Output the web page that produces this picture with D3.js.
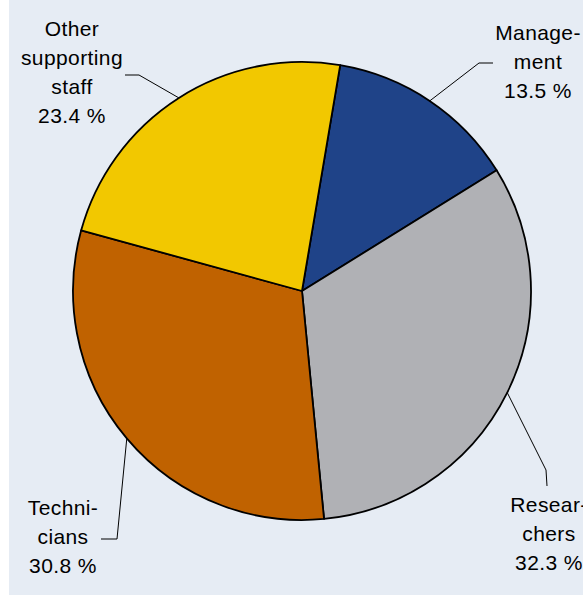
<!DOCTYPE html>
<html><head><meta charset="utf-8">
<script src="https://cdn.jsdelivr.net/npm/d3@7"></script>
<style>html,body{margin:0;padding:0;background:#fff;}svg{display:block;}</style>
</head><body>
<svg id="chart" width="583" height="597"></svg>
<script>
// Data
const categories = ["Management", "Researchers", "Technicians", "Other supporting staff"];
const values = [13.5, 32.3, 30.8, 23.4];
const labelLines = [["Manage-", "ment"], ["Resear-", "chers"], ["Techni-", "cians"], ["Other", "supporting", "staff"]];
const colors = ["#1f4388", "#b0b1b5", "#c06200", "#f2c800"];

// Layout
const W = 583, H = 597;
const cx = 302, cy = 291, R = 229;
const startDeg = 9.6;
// label anchor: text centre x, first baseline y; leader elbow & end points
const labelLayout = [
  {tx: 538, ty: 40, elbow: [479, 63], end: [493, 63]},
  {tx: 549, ty: 512, elbow: [546, 470], end: [547, 486]},
  {tx: 63, ty: 515, elbow: [117, 539], end: [101, 539]},
  {tx: 72, ty: 36, elbow: [139, 75], end: [125, 75]}
];
const lineH = 29;

const svg = d3.select("#chart");
svg.append("rect").attr("x", 9).attr("y", 0).attr("width", W - 9).attr("height", 595).attr("fill", "#e6ecf4");

const pie = d3.pie().sort(null).value(d => d)
  .startAngle(startDeg * Math.PI / 180)
  .endAngle(startDeg * Math.PI / 180 + 2 * Math.PI);
const arcs = pie(values);
const arc = d3.arc().innerRadius(0).outerRadius(R);

const g = svg.append("g").attr("transform", `translate(${cx},${cy})`);
g.selectAll("path").data(arcs).join("path")
  .attr("d", arc)
  .attr("fill", (d, i) => colors[i])
  .attr("stroke", "#000").attr("stroke-width", 1.8).attr("stroke-linejoin", "round");

// Leader lines
arcs.forEach((a, i) => {
  const m = (a.startAngle + a.endAngle) / 2;
  const px = cx + R * Math.sin(m), py = cy - R * Math.cos(m);
  const L = labelLayout[i];
  svg.append("polyline")
    .attr("points", [[px, py], L.elbow, L.end].map(p => p.join(",")).join(" "))
    .attr("fill", "none").attr("stroke", "#000").attr("stroke-width", 1);
});

// Labels
arcs.forEach((a, i) => {
  const L = labelLayout[i];
  const lines = labelLines[i].concat([d3.format(".1f")(values[i]) + " %"]);
  const t = svg.append("text")
    .attr("text-anchor", "middle")
    .attr("font-family", "Liberation Sans, Arial, sans-serif")
    .attr("font-size", 21).attr("letter-spacing", 0.4).attr("fill", "#000");
  lines.forEach((s, k) => {
    t.append("tspan").attr("x", L.tx).attr("y", L.ty + k * lineH).text(s);
  });
});
</script>
</body></html>
